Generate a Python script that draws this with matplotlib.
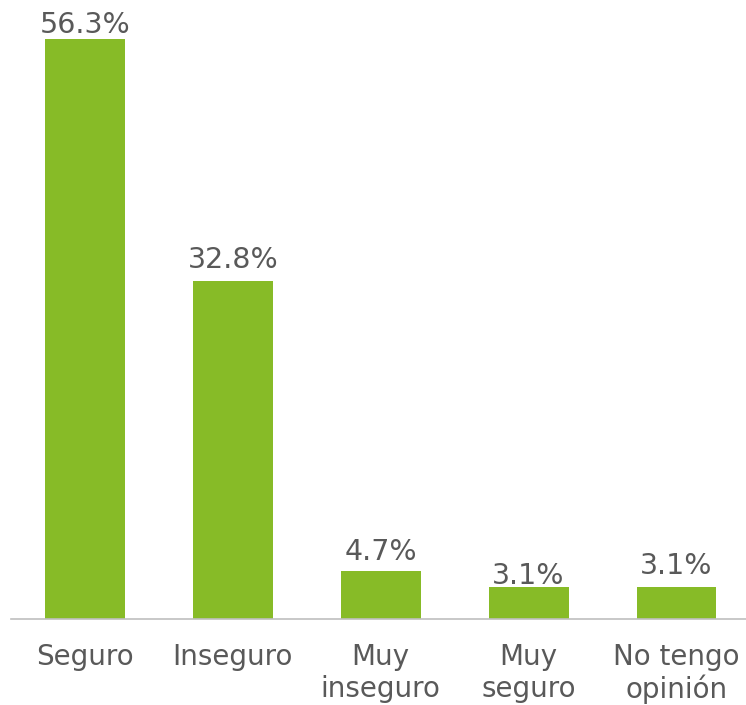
import matplotlib.pyplot as plt

categories = ["Seguro", "Inseguro", "Muy\ninseguro", "Muy\nseguro", "No tengo\nopinión"]
values = [56.3, 32.8, 4.7, 3.1, 3.1]
labels = ["56.3%", "32.8%", "4.7%", "3.1%", "3.1%"]

# label offsets above bar tops, in points (the source places them unevenly)
label_offsets = [0, 5, 3, -2, 5]

text_color = "#595959"
bar_color = "#87bb27"

fig = plt.figure(figsize=(7.46, 7.05), dpi=100)
ax = fig.add_axes([11 / 746, 86 / 705, 735 / 746, 619 / 705])

x = range(len(categories))
bars = ax.bar(x, values, width=0.54, color=bar_color)

for bar, label, off in zip(bars, labels, label_offsets):
    ax.annotate(label, (bar.get_x() + bar.get_width() / 2, bar.get_height()),
                xytext=(0, off), textcoords="offset points",
                ha="center", va="bottom", fontsize=20.5, color=text_color)

ax.set_xlim(-0.5, 4.47)
ax.set_ylim(0, 60.1)
ax.set_xticks(list(x))
ax.set_xticklabels(categories, fontsize=20, color=text_color, linespacing=1.18)
ax.tick_params(axis="x", length=0, pad=17)
ax.set_yticks([])

for side in ["top", "right", "left"]:
    ax.spines[side].set_visible(False)
ax.spines["bottom"].set_color("#bfbfbf")
ax.spines["bottom"].set_linewidth(1.2)

fig.savefig("out.png", dpi=100)
